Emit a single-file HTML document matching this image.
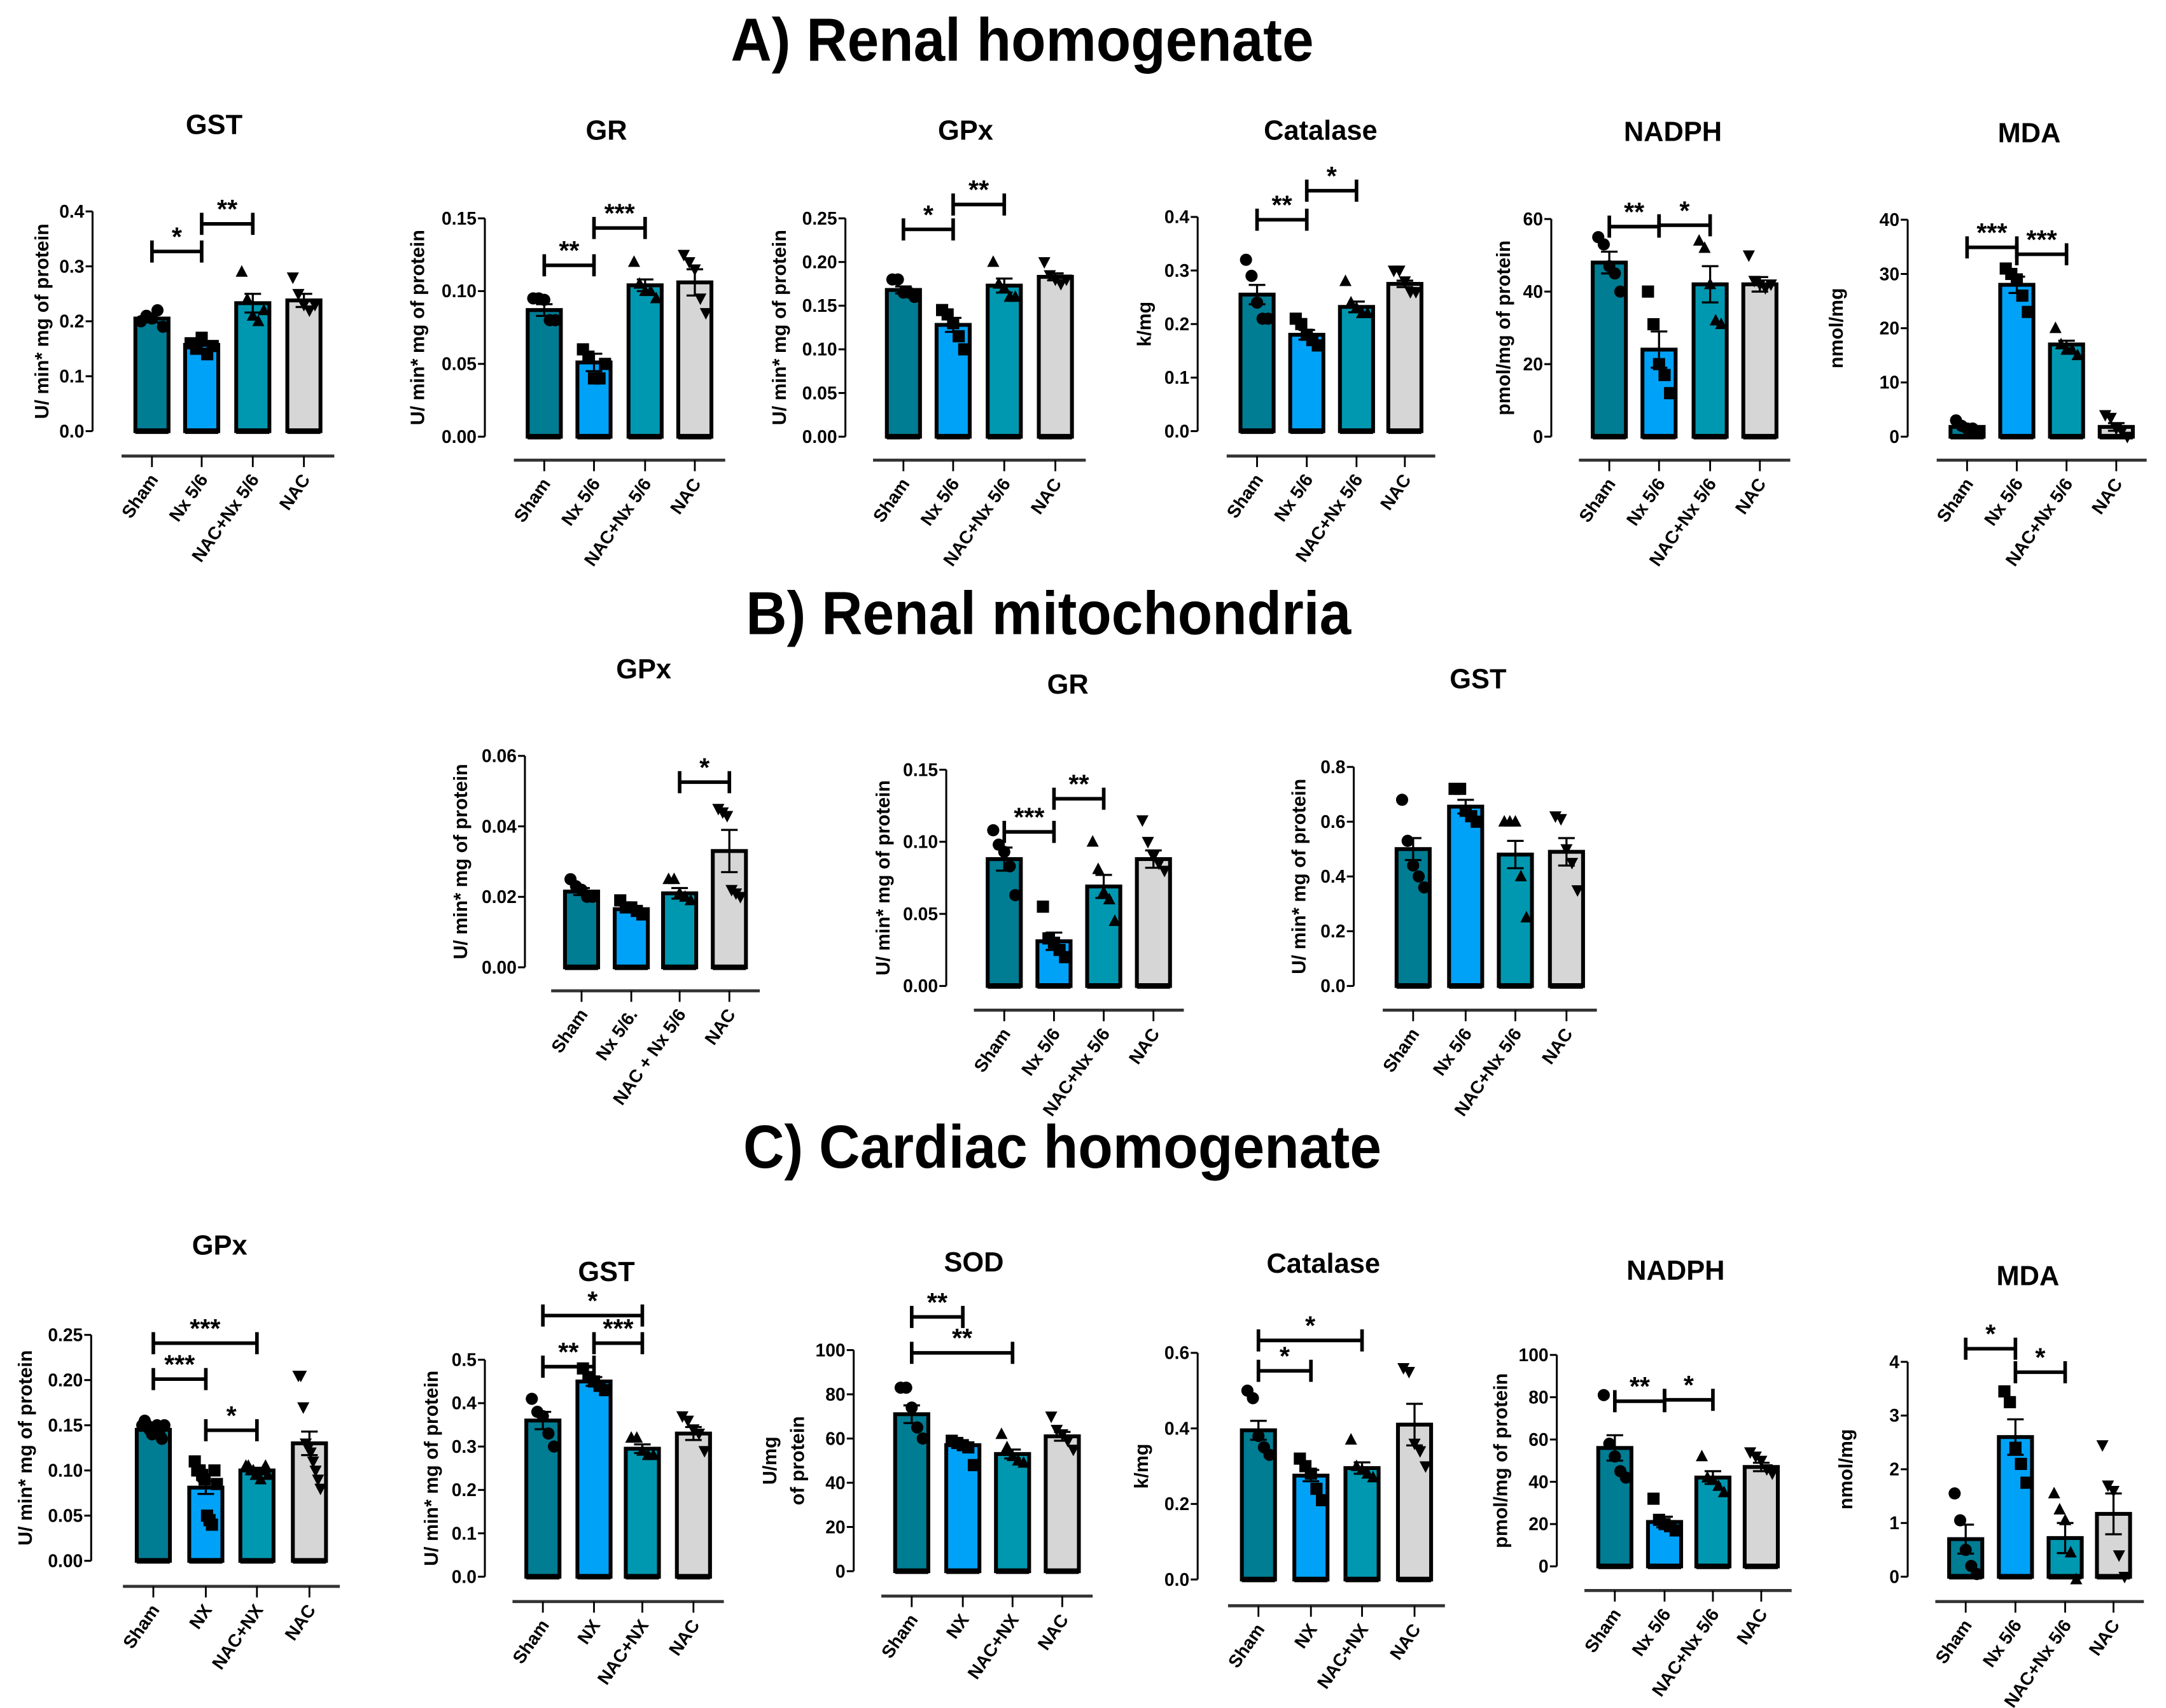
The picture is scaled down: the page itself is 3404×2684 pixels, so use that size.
<!DOCTYPE html>
<html><head><meta charset="utf-8"><title>Antioxidant enzymes figure</title>
<style>
html,body{margin:0;padding:0;background:#fff;}
svg{display:block;}
text{font-family:"Liberation Sans",Arial,sans-serif;font-weight:bold;fill:#000;}
</style></head>
<body>
<svg id="fig" xmlns="http://www.w3.org/2000/svg" width="3404" height="2684" viewBox="0 0 1568 1236" preserveAspectRatio="none">
<text x="740" y="44" font-size="44" text-anchor="middle" textLength="422" lengthAdjust="spacingAndGlyphs">A) Renal homogenate</text>
<text x="759" y="459" font-size="44" text-anchor="middle" textLength="438" lengthAdjust="spacingAndGlyphs">B) Renal mitochondria</text>
<text x="769" y="845" font-size="44" text-anchor="middle" textLength="462" lengthAdjust="spacingAndGlyphs">C) Cardiac homogenate</text>
</svg>
<script>
// ---------- data ----------
const catsNx = ["Sham","Nx 5/6","NAC+Nx 5/6","NAC"];
const catsB1 = ["Sham","Nx 5/6.","NAC + Nx 5/6","NAC"];
const catsNX = ["Sham","NX","NAC+NX","NAC"];

const aGstMeans=[0.205,0.157,0.233,0.238]; const aGstErr=[0.007,0.007,0.017,0.012];
const aGstPts=[[0.2,0.21,0.205,0.22,0.19],[0.16,0.15,0.17,0.14,0.155],[0.29,0.24,0.21,0.2,0.22],[0.28,0.25,0.23,0.22,0.23]];
const aGstTicks=[0,0.1,0.2,0.3,0.4]; const aGstTickLabels=["0.0","0.1","0.2","0.3","0.4"];

const aGrMeans=[0.087,0.051,0.104,0.106]; const aGrErr=[0.004,0.006,0.004,0.009];
const aGrPts=[[0.095,0.095,0.094,0.08,0.08],[0.06,0.055,0.04,0.04,0.05],[0.12,0.105,0.1,0.1,0.095],[0.125,0.12,0.115,0.095,0.085]];
const aGrTicks=[0,0.05,0.1,0.15]; const aGrTickLabels=["0.00","0.05","0.10","0.15"];

const aGpxMeans=[0.168,0.128,0.173,0.183]; const aGpxErr=[0.004,0.008,0.008,0.004];
const aGpxPts=[[0.18,0.18,0.165,0.165,0.16],[0.145,0.14,0.13,0.115,0.1],[0.2,0.175,0.17,0.16,0.16],[0.2,0.185,0.18,0.175,0.18]];
const aGpxTicks=[0,0.05,0.1,0.15,0.2,0.25]; const aGpxTickLabels=["0.00","0.05","0.10","0.15","0.20","0.25"];

const aCatMeans=[0.255,0.18,0.232,0.275]; const aCatErr=[0.018,0.009,0.01,0.006];
const aCatPts=[[0.32,0.29,0.24,0.21,0.21],[0.21,0.2,0.18,0.17,0.16],[0.28,0.24,0.23,0.22,0.22],[0.3,0.3,0.28,0.26,0.26]];
const aCatTicks=[0,0.1,0.2,0.3,0.4]; const aCatTickLabels=["0.0","0.1","0.2","0.3","0.4"];

const aNadMeans=[48,24,42,42]; const aNadErr=[3,5,5,2];
const aNadPts=[[55,53,47,45,40],[40,31,20,17,12],[54,52,42,32,31],[50,43,42,41,42]];
const aNadTicks=[0,20,40,60]; const aNadTickLabels=["0","20","40","60"];

const aMdaMeans=[1.8,28,17,1.8]; const aMdaErr=[0.4,1.5,0.7,0.7];
const aMdaPts=[[3,2,1.5,1.5,1],[31,30,29,26,23],[20,17,16,16,15],[4,3.5,1.5,1,0]];
const aMdaTicks=[0,10,20,30,40]; const aMdaTickLabels=["0","10","20","30","40"];

const bGpxMeans=[0.0215,0.0165,0.021,0.033]; const bGpxErr=[0.001,0.0008,0.0015,0.006];
const bGpxPts=[[0.025,0.023,0.022,0.02,0.02],[0.019,0.017,0.017,0.016,0.015],[0.025,0.025,0.021,0.02,0.019],[0.045,0.044,0.043,0.022,0.021,0.02]];
const bGpxTicks=[0,0.02,0.04,0.06]; const bGpxTickLabels=["0.00","0.02","0.04","0.06"];

const bGrMeans=[0.088,0.031,0.069,0.088]; const bGrErr=[0.008,0.006,0.008,0.006];
const bGrPts=[[0.108,0.098,0.093,0.083,0.063],[0.055,0.033,0.03,0.025,0.02],[0.1,0.081,0.065,0.06,0.045],[0.115,0.1,0.09,0.085,0.08]];
const bGrTicks=[0,0.05,0.1,0.15]; const bGrTickLabels=["0.00","0.05","0.10","0.15"];

const bGstMeans=[0.5,0.655,0.48,0.49]; const bGstErr=[0.04,0.025,0.05,0.05];
const bGstPts=[[0.68,0.53,0.44,0.4,0.36],[0.72,0.72,0.64,0.62,0.6],[0.6,0.6,0.6,0.4,0.25],[0.62,0.61,0.5,0.45,0.35]];
const bGstTicks=[0,0.2,0.4,0.6,0.8]; const bGstTickLabels=["0.0","0.2","0.4","0.6","0.8"];

const cGpxMeans=[0.145,0.081,0.1,0.13]; const cGpxErr=[0.003,0.007,0.003,0.013];
const cGpxPts=[[0.15,0.155,0.15,0.145,0.14,0.145,0.15,0.14,0.135,0.15],[0.11,0.1,0.1,0.095,0.09,0.05,0.045,0.04,0.1,0.085],[0.105,0.105,0.1,0.1,0.095,0.095,0.09,0.1,0.105,0.095],[0.205,0.205,0.17,0.13,0.125,0.12,0.11,0.1,0.09,0.08]];
const cGpxTicks=[0,0.05,0.1,0.15,0.2,0.25]; const cGpxTickLabels=["0.00","0.05","0.10","0.15","0.20","0.25"];

const cGstMeans=[0.36,0.45,0.295,0.33]; const cGstErr=[0.02,0.01,0.01,0.015];
const cGstPts=[[0.41,0.38,0.37,0.33,0.3],[0.48,0.46,0.45,0.44,0.43],[0.32,0.32,0.29,0.28,0.28],[0.37,0.36,0.34,0.33,0.29]];
const cGstTicks=[0,0.1,0.2,0.3,0.4,0.5]; const cGstTickLabels=["0.0","0.1","0.2","0.3","0.4","0.5"];

const cSodMeans=[71,57,53,61]; const cSodErr=[4,1,2,2];
const cSodPts=[[83,83,74,65,60],[59,58,57,56,48],[62,56,52,50,49],[70,64,62,59,55]];
const cSodTicks=[0,20,40,60,80,100]; const cSodTickLabels=["0","20","40","60","80","100"];

const cCatMeans=[0.395,0.275,0.295,0.41]; const cCatErr=[0.025,0.015,0.015,0.055];
const cCatPts=[[0.5,0.48,0.38,0.35,0.33],[0.32,0.3,0.28,0.24,0.21],[0.37,0.3,0.29,0.28,0.27],[0.56,0.55,0.36,0.34,0.3]];
const cCatTicks=[0,0.2,0.4,0.6]; const cCatTickLabels=["0.0","0.2","0.4","0.6"];

const cNadMeans=[56,21,42,47]; const cNadErr=[6,2.5,3,2];
const cNadPts=[[81,58,52,45,42],[32,22,20,19,17],[52,42,41,38,35],[54,52,50,46,44]];
const cNadTicks=[0,20,40,60,80,100]; const cNadTickLabels=["0","20","40","60","80","100"];

const cMdaMeans=[0.7,2.6,0.72,1.17]; const cMdaErr=[0.27,0.33,0.28,0.38];
const cMdaPts=[[1.55,1.05,0.5,0.2,0.05],[3.45,3.25,2.4,2.1,1.75],[1.55,1.25,1.05,0.45,-0.05],[2.45,1.7,1.6,0.4,0]];
const cMdaTicks=[0,1,2,3,4]; const cMdaTickLabels=["0","1","2","3","4"];

// ---------- layout ----------
const COLORS=["#007c93","#00a2f8","#0098b0","#d6d6d6"];
const SHAPES=["circle","square","up","down"];
const NS="http://www.w3.org/2000/svg";
const svg=document.getElementById('fig');

function el(tag,attrs,parent){const e=document.createElementNS(NS,tag);for(const k in attrs)e.setAttribute(k,attrs[k]);(parent||svg).appendChild(e);return e;}

const panels=[
 {id:"a-gst",title:"GST",tx:155,ty:97,ax:67,y0:312,y1:153,max:0.4,bars:[110,146,183,220],xa:330,ylab:["U/ min* mg of protein"],lx:30,cats:catsNx,m:aGstMeans,e:aGstErr,p:aGstPts,t:aGstTicks,tl:aGstTickLabels,br:[[0,1,182,"*"],[1,2,162,"**"]]},
 {id:"a-gr",title:"GR",tx:439,ty:101,ax:351,y0:316,y1:158,max:0.15,bars:[394,430,467,503],xa:333,ylab:["U/ min* mg of protein"],lx:302,cats:catsNx,m:aGrMeans,e:aGrErr,p:aGrPts,t:aGrTicks,tl:aGrTickLabels,br:[[0,1,192,"**"],[1,2,165,"***"]]},
 {id:"a-gpx",title:"GPx",tx:699,ty:101,ax:612,y0:316,y1:158,max:0.25,bars:[654,690,727,764],xa:333,ylab:["U/ min* mg of protein"],lx:564,cats:catsNx,m:aGpxMeans,e:aGpxErr,p:aGpxPts,t:aGpxTicks,tl:aGpxTickLabels,br:[[0,1,166,"*"],[1,2,148,"**"]]},
 {id:"a-catalase",title:"Catalase",tx:956,ty:101,ax:867,y0:312,y1:157,max:0.4,bars:[910,946,982,1017],xa:330,ylab:["k/mg"],lx:828,cats:catsNx,m:aCatMeans,e:aCatErr,p:aCatPts,t:aCatTicks,tl:aCatTickLabels,br:[[0,1,159,"**"],[1,2,138,"*"]]},
 {id:"a-nadph",title:"NADPH",tx:1211,ty:102,ax:1123,y0:316,y1:158.5,max:60,bars:[1165,1201,1238,1274],xa:333,ylab:["pmol/mg of protein"],lx:1088,cats:catsNx,m:aNadMeans,e:aNadErr,p:aNadPts,t:aNadTicks,tl:aNadTickLabels,br:[[0,1,164,"**"],[1,2,163,"*"]]},
 {id:"a-mda",title:"MDA",tx:1469,ty:103,ax:1381,y0:316,y1:159,max:40,bars:[1424,1460,1496,1532],xa:333,ylab:["nmol/mg"],lx:1329,cats:catsNx,m:aMdaMeans,e:aMdaErr,p:aMdaPts,t:aMdaTicks,tl:aMdaTickLabels,br:[[0,1,179,"***"],[1,2,184,"***"]]},
 {id:"b-gpx",title:"GPx",tx:466,ty:491,ax:380,y0:700,y1:547,max:0.06,bars:[421,457,492,528],xa:717,ylab:["U/ min* mg of protein"],lx:333,cats:catsB1,m:bGpxMeans,e:bGpxErr,p:bGpxPts,t:bGpxTicks,tl:bGpxTickLabels,br:[[2,3,566,"*"]]},
 {id:"b-gr",title:"GR",tx:773,ty:502,ax:685,y0:713.5,y1:557,max:0.15,bars:[727,763,799,835],xa:731,ylab:["U/ min* mg of protein"],lx:639,cats:catsNx,m:bGrMeans,e:bGrErr,p:bGrPts,t:bGrTicks,tl:bGrTickLabels,br:[[0,1,602,"***"],[1,2,578,"**"]]},
 {id:"b-gst",title:"GST",tx:1070,ty:498,ax:980,y0:713.5,y1:555,max:0.8,bars:[1023,1061,1097,1134],xa:731,ylab:["U/ min* mg of protein"],lx:940,cats:catsNx,m:bGstMeans,e:bGstErr,p:bGstPts,t:bGstTicks,tl:bGstTickLabels,br:[]},
 {id:"c-gpx",title:"GPx",tx:159,ty:908,ax:66,y0:1129.5,y1:966,max:0.25,bars:[111,149,186,224],xa:1148,ylab:["U/ min* mg of protein"],lx:18,cats:catsNX,m:cGpxMeans,e:cGpxErr,p:cGpxPts,t:cGpxTicks,tl:cGpxTickLabels,br:[[0,2,972,"***"],[0,1,998,"***"],[1,2,1035,"*"]]},
 {id:"c-gst",title:"GST",tx:439,ty:927,ax:351,y0:1141,y1:984,max:0.5,bars:[393,430,465,502],xa:1159,ylab:["U/ min* mg of protein"],lx:312,cats:catsNX,m:cGstMeans,e:cGstErr,p:cGstPts,t:cGstTicks,tl:cGstTickLabels,br:[[0,2,952,"*"],[1,2,972,"***"],[0,1,989,"**"]]},
 {id:"c-sod",title:"SOD",tx:705,ty:920,ax:618,y0:1137,y1:977,max:100,bars:[660,697,733,769],xa:1155,ylab:["U/mg","of protein"],lx:557,cats:catsNX,m:cSodMeans,e:cSodErr,p:cSodPts,t:cSodTicks,tl:cSodTickLabels,br:[[0,1,953,"**"],[0,2,979,"**"]]},
 {id:"c-catalase",title:"Catalase",tx:958,ty:921,ax:867,y0:1143,y1:979,max:0.6,bars:[911,949,986,1024],xa:1162,ylab:["k/mg"],lx:826,cats:catsNX,m:cCatMeans,e:cCatErr,p:cCatPts,t:cCatTicks,tl:cCatTickLabels,br:[[0,2,970,"*"],[0,1,992,"*"]]},
 {id:"c-nadph",title:"NADPH",tx:1213,ty:926,ax:1127,y0:1133.5,y1:980.5,max:100,bars:[1169,1205,1240,1275],xa:1151,ylab:["pmol/mg of protein"],lx:1086,cats:catsNx,m:cNadMeans,e:cNadErr,p:cNadPts,t:cNadTicks,tl:cNadTickLabels,br:[[0,1,1014,"**"],[1,2,1013,"*"]]},
 {id:"c-mda",title:"MDA",tx:1468,ty:930,ax:1381,y0:1141,y1:985.5,max:4,bars:[1423,1459,1495,1530],xa:1159,ylab:["nmol/mg"],lx:1336,cats:catsNx,m:cMdaMeans,e:cMdaErr,p:cMdaPts,t:cMdaTicks,tl:cMdaTickLabels,br:[[0,1,976,"*"],[1,2,993,"*"]]}
];

function marker(g,shape,cx,cy,r){
  let m;
  if(shape==="circle") m=el('circle',{cx:cx,cy:cy,r:r,fill:'#000'},g);
  else if(shape==="square") m=el('rect',{x:cx-r,y:cy-r,width:2*r,height:2*r,fill:'#000'},g);
  else if(shape==="up") m=el('polygon',{points:`${cx},${cy-r*1.1} ${cx-r},${cy+r*0.8} ${cx+r},${cy+r*0.8}`,fill:'#000'},g);
  else m=el('polygon',{points:`${cx},${cy+r*1.1} ${cx-r},${cy-r*0.8} ${cx+r},${cy-r*0.8}`,fill:'#000'},g);
  return m;
}

panels.forEach(P=>{
  const g=el('g',{});
  
  
  const yS=v=>P.y0-(v/P.max)*(P.y0-P.y1);
  const bw=24;
  const t=el('text',{x:P.tx,y:P.ty,'font-size':20,'text-anchor':'middle'},g);
  t.textContent=P.title;
  
  
  const ya=el('line',{x1:P.ax,y1:P.y0,x2:P.ax,y2:P.y1,stroke:'#000','stroke-width':1.4},g);
  
  
  P.t.forEach((v,i)=>{
    const y=yS(v);
    el('line',{x1:P.ax-5,y1:y,x2:P.ax,y2:y,stroke:'#000','stroke-width':1.4},g);
    const tl=el('text',{x:P.ax-6,y:y+4.5,'font-size':13,'text-anchor':'end'},g);
    tl.textContent=P.tl[i];
    
    
  });
  const ymid=(P.y0+P.y1)/2;
  P.ylab.forEach((s,k)=>{
    const lx=P.lx+k*20;
    const yl=el('text',{x:lx,y:ymid,'font-size':14,'text-anchor':'middle',transform:`rotate(-90 ${lx} ${ymid})`,dy:5},g);
    yl.textContent=s;
    
    
  });
  const xa=el('line',{x1:P.bars[0]-22,y1:P.xa,x2:P.bars[3]+22,y2:P.xa,stroke:'#333','stroke-width':2.2},g);
  
  
  P.cats.forEach((c,i)=>{
    const x=P.bars[i];
    el('line',{x1:x,y1:P.xa,x2:x,y2:P.xa+8,stroke:'#000','stroke-width':1.3},g);
    const ly=P.xa+17;
    const xl=el('text',{x:x+5,y:ly,'font-size':13,'text-anchor':'end',transform:`rotate(-55 ${x+5} ${ly})`},g);
    xl.textContent=c;
    
    
  });
  P.m.forEach((v,i)=>{
    const x=P.bars[i], y=yS(v);
    const b=el('rect',{x:x-bw/2,y:y,width:bw,height:P.y0-y,fill:COLORS[i],stroke:'#000','stroke-width':2.8},g);
    
    
    el('line',{x1:x-bw/2,y1:P.y0,x2:x+bw/2,y2:P.y0,stroke:'#000','stroke-width':4},g);
  });
  P.p.forEach((arr,i)=>{
    const n=arr.length;
    arr.forEach((v,k)=>{
      const off=n>1?(k-(n-1)/2)*(16/(n-1)):0;
      const pt=marker(g,SHAPES[i],P.bars[i]+off,yS(v),4.4);
      
      
    });
  });
  P.m.forEach((v,i)=>{
    const x=P.bars[i], yt=yS(v+P.e[i]), yb=yS(v-P.e[i]);
    const eb=el('path',{d:`M${x},${yb}L${x},${yt}M${x-6},${yt}L${x+6},${yt}M${x-6},${yb}L${x+6},${yb}`,stroke:'#000','stroke-width':1.5,fill:'none'},g);
    
    
  });
  P.br.forEach(b=>{
    const x1=P.bars[b[0]], x2=P.bars[b[1]], y=b[2];
    const bp=el('path',{d:`M${x1},${y-8}L${x1},${y+8}M${x1},${y}L${x2},${y}M${x2},${y-8}L${x2},${y+8}`,stroke:'#000','stroke-width':2.6,fill:'none'},g);
    
    
    const st=el('text',{x:(x1+x2)/2,y:y-4,'font-size':19,'text-anchor':'middle'},g);
    st.textContent=b[3];
    
    
  });
});
</script>
</body></html>
